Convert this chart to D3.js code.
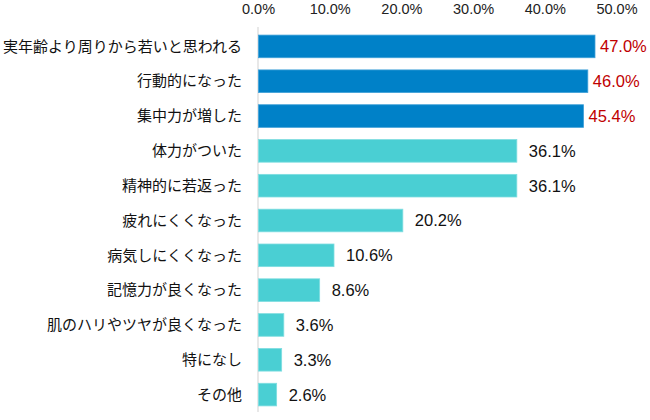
<!DOCTYPE html>
<html><head><meta charset="utf-8">
<script src="https://cdn.jsdelivr.net/npm/d3@7/dist/d3.min.js"></script>
<style>body{margin:0;background:#fff;} text{font-family:"Noto Sans CJK JP","Noto Sans",sans-serif;} .num{font-family:"Liberation Sans",Arial,sans-serif;}</style>
</head><body><svg id="c" width="650" height="420"></svg>
<script>
const categories = ["実年齢より周りから若いと思われる","行動的になった","集中力が増した","体力がついた","精神的に若返った","疲れにくくなった","病気しにくくなった","記憶力が良くなった","肌のハリやツヤが良くなった","特になし","その他"];
const values = [47.0,46.0,45.4,36.1,36.1,20.2,10.6,8.6,3.6,3.3,2.6];
const highlighted = [true,true,true,false,false,false,false,false,false,false,false];
const tickValues = [0,10,20,30,40,50];

const svg = d3.select("#c");
const x = d3.scaleLinear().domain([0,50]).range([258,616.5]);
const y = d3.scaleBand().domain(categories).range([29,412]).paddingInner(0.35).paddingOuter(0.175);

svg.append("g").attr("transform","translate(0,9)")
  .call(d3.axisTop(x).tickValues(tickValues).tickFormat(d=>d.toFixed(1)+"%").tickSize(0))
  .call(g=>g.select(".domain").remove())
  .call(g=>g.selectAll("text").attr("class","num").attr("font-size",14.5).attr("fill","#222").attr("dy","0.36em").attr("y",0));

svg.append("line").attr("x1",x(0)).attr("x2",x(0)).attr("y1",y(categories[0])-8).attr("y2",412)
  .attr("stroke","#d9d9d9").attr("stroke-width",1.2);

const rows = svg.selectAll(".row").data(categories).join("g");
rows.append("rect")
  .attr("x",x(0)+0.5).attr("y",d=>y(d))
  .attr("width",(d,i)=>x(values[i])-x(0)-0.5).attr("height",y.bandwidth())
  .attr("fill",(d,i)=>highlighted[i]?"#0081c8":"#4acfd3")
  .attr("stroke",(d,i)=>highlighted[i]?"#3fa0d8":"#7fdde0").attr("stroke-width",0.8);
rows.append("text")
  .attr("x",242).attr("y",d=>y(d)+y.bandwidth()/2).attr("dy","0.35em")
  .attr("text-anchor","end").attr("font-size",15).attr("fill","#111").text(d=>d);
rows.append("text").attr("class","num")
  .attr("x",(d,i)=>x(values[i])+(highlighted[i]?5:12)).attr("y",d=>y(d)+y.bandwidth()/2).attr("dy","0.36em")
  .attr("font-size",16.5).attr("fill",(d,i)=>highlighted[i]?"#c00000":"#111")
  .text((d,i)=>values[i].toFixed(1)+"%");
</script></body></html>
